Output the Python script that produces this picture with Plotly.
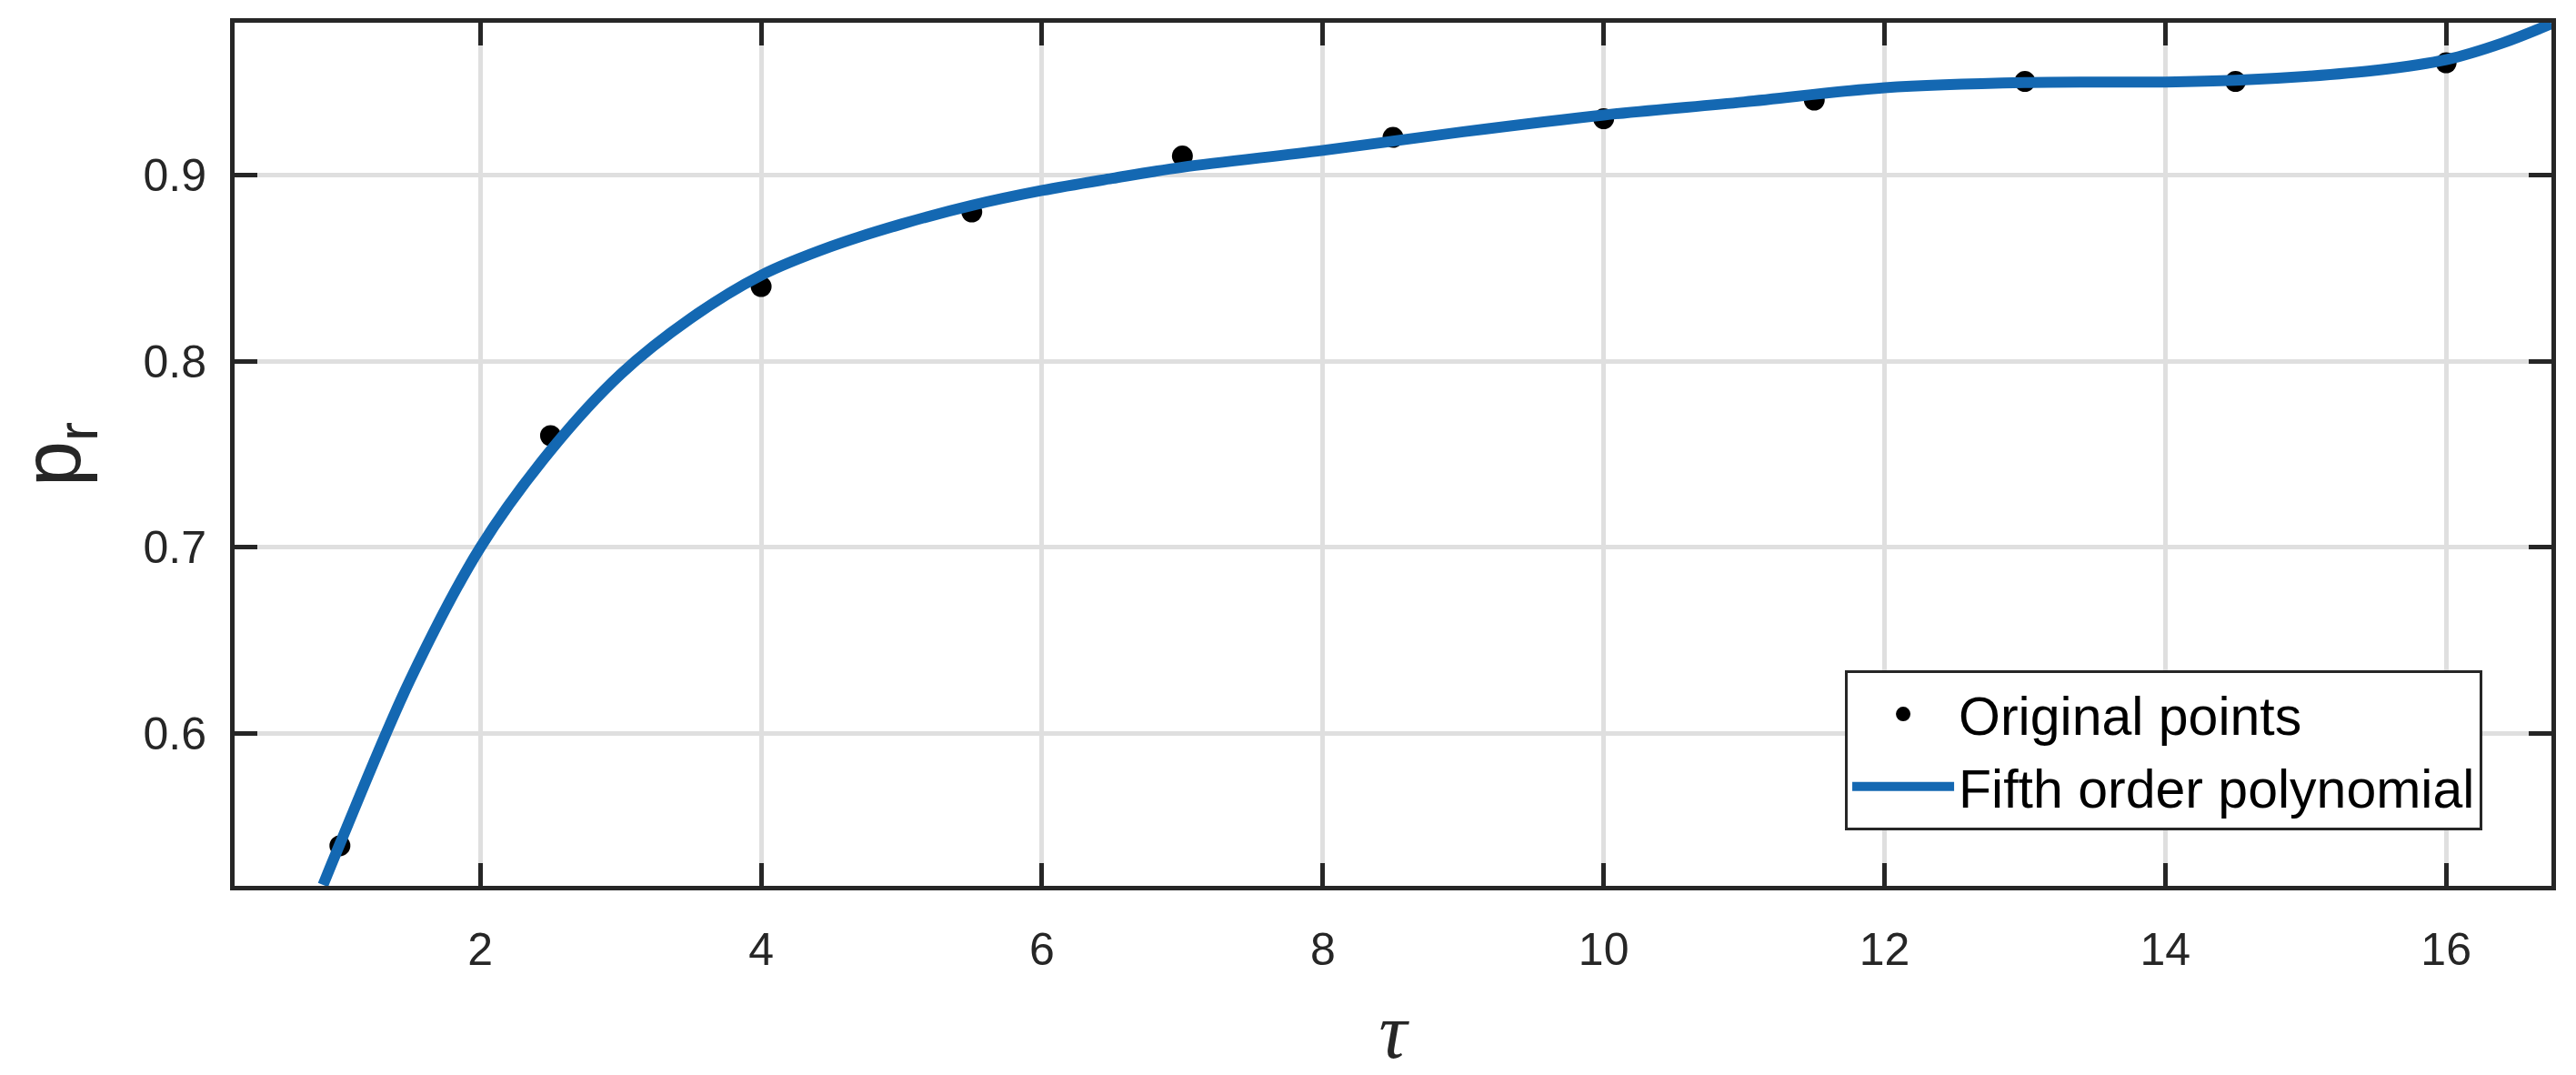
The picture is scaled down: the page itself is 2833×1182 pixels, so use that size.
import plotly.graph_objects as go

# Original data points
tau_pts = [1, 2.5, 4, 5.5, 7, 8.5, 10, 11.5, 13, 14.5, 16]
pr_pts = [0.54, 0.76, 0.84, 0.88, 0.91, 0.92, 0.93, 0.94, 0.95, 0.95, 0.96]

# Fifth order polynomial curve
fit_tau = [0.88, 1, 1.5, 2, 2.5, 3, 3.5, 4, 4.5, 5, 5.5, 6, 6.5, 7, 8, 9, 10,
           11, 12, 13, 14, 14.5, 15, 15.5, 16, 16.4, 16.75]
fit_pr = [0.519, 0.541, 0.629, 0.700, 0.752, 0.793, 0.823, 0.846, 0.8615,
          0.8735, 0.8835, 0.8915, 0.898, 0.904, 0.913, 0.923, 0.932, 0.939,
          0.9466, 0.9494, 0.9497, 0.9506, 0.9527, 0.956, 0.9617, 0.9706, 0.981]

x_ticks = [2, 4, 6, 8, 10, 12, 14, 16]
y_ticks = [0.6, 0.7, 0.8, 0.9]
x_range = [0.25, 16.75]
y_range = [0.5185, 0.9815]

AX = "#262626"
GRID = "#dfdfdf"
BLUE = "#1468b2"
FONT = "Liberation Sans, Arial, Helvetica, sans-serif"

fig = go.Figure()
fig.add_trace(go.Scatter(
    x=tau_pts, y=pr_pts, mode="markers", name="Original points",
    marker=dict(color="black", size=23, line=dict(width=0)),
))
fig.add_trace(go.Scatter(
    x=fit_tau, y=fit_pr, mode="lines", name="Fifth order polynomial",
    line=dict(color=BLUE, width=12, shape="spline", smoothing=1.0),
))

axis_common = dict(
    showline=True, linecolor=AX, linewidth=5, mirror="allticks",
    ticks="inside", ticklen=25, tickwidth=5, tickcolor=AX,
    showgrid=True, gridcolor=GRID, gridwidth=5, zeroline=False,
    tickfont=dict(family=FONT, size=50, color=AX),
)

fig.update_xaxes(
    range=x_range, tickvals=x_ticks, ticktext=[str(v) for v in x_ticks],
    ticklabelstandoff=22,
    title=dict(text="τ", font=dict(family="Liberation Serif, serif", size=86, color=AX,
                                   style="italic"), standoff=38),
    **axis_common,
)
fig.update_yaxes(
    range=y_range, tickvals=y_ticks, ticktext=[f"{v:.1f}" for v in y_ticks],
    ticklabelstandoff=16,
    title=dict(text="p<sub>r</sub>", font=dict(family=FONT, size=90, color=AX), standoff=40),
    **axis_common,
)

fig.update_layout(
    width=2833, height=1182, autosize=False,
    margin=dict(l=258, r=27, t=25, b=205),
    paper_bgcolor="white", plot_bgcolor="white",
    font=dict(family=FONT, color=AX),
    showlegend=True,
    legend=dict(
        x=0.9702, y=0.064, xanchor="right", yanchor="bottom",
        bgcolor="white", bordercolor=AX, borderwidth=3,
        font=dict(family=FONT, size=59, color="black"),
        itemwidth=112, tracegroupgap=0,
    ),
)

fig.write_html("out.html", config={"displayModeBar": False},
               post_script="document.body.style.margin='0';")
